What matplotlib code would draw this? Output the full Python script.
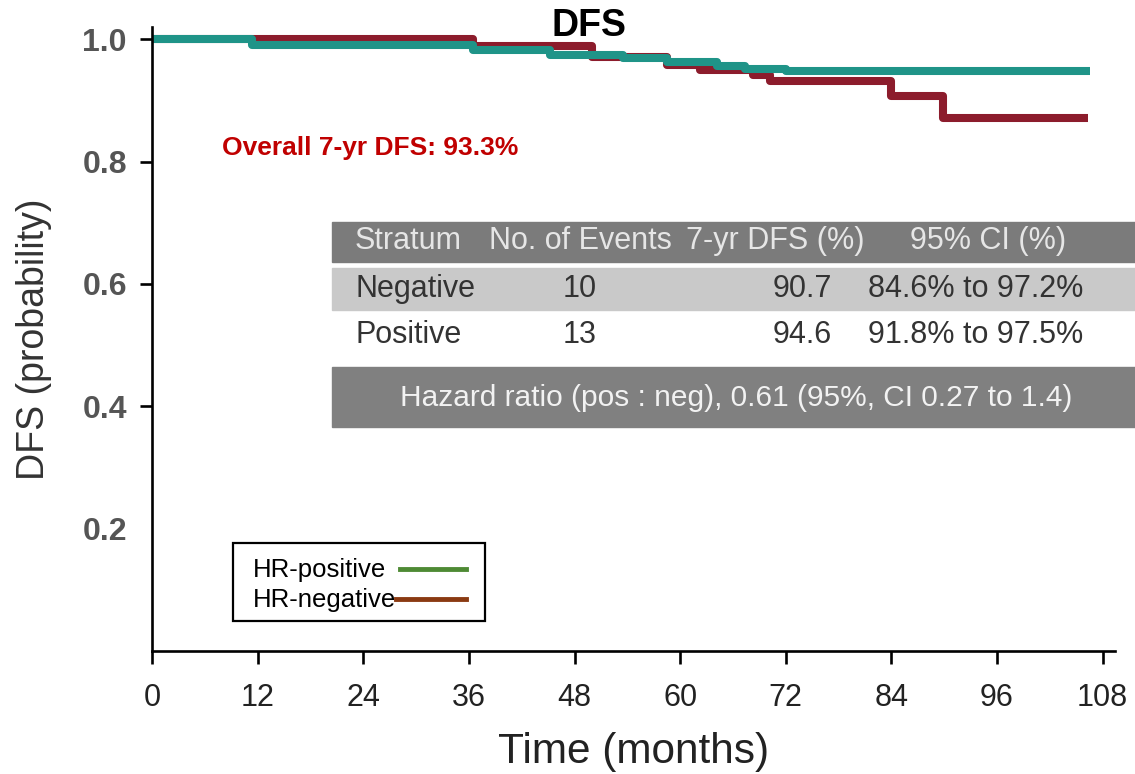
import matplotlib.pyplot as plt
from matplotlib.lines import Line2D
from matplotlib.patches import Rectangle

plt.rcParams['font.family'] = ['Liberation Sans', 'DejaVu Sans']

# Kaplan-Meier steps (months, survival probability)
pos_time = [0, 11.4, 36.5, 45.2, 53.5, 58.5, 64.2, 67.4, 72.0, 106.6]
pos_surv = [1.0, 0.991, 0.982, 0.975, 0.970, 0.962, 0.956, 0.952, 0.948, 0.948]
neg_time = [0, 36.5, 50.0, 58.5, 62.3, 68.3, 70.2, 83.9, 89.9, 106.3]
neg_surv = [1.0, 0.989, 0.971, 0.958, 0.949, 0.942, 0.931, 0.907, 0.871, 0.871]

x_ticks = [0, 12, 24, 36, 48, 60, 72, 84, 96, 108]
y_ticks = [0.2, 0.4, 0.6, 0.8, 1.0]

# summary table
tab_header = ["Stratum", "No. of Events", "7-yr DFS (%)", "95% CI (%)"]
tab_strata = ["Negative", "Positive"]
tab_events = ["10", "13"]
tab_dfs = ["90.7", "94.6"]
tab_ci = ["84.6% to 97.2%", "91.8% to 97.5%"]
hazard_text = "Hazard ratio (pos : neg), 0.61 (95%, CI 0.27 to 1.4)"

legend_labels = ["HR-positive", "HR-negative"]
legend_colors = ["#4e8a34", "#8a3a12"]

W, H = 1135, 774
fig = plt.figure(figsize=(W / 100, H / 100), dpi=100)


def fx(px):
    return px / W


def fy(py):
    return 1 - py / H


ax = fig.add_axes([fx(152), fy(651), fx(1115) - fx(152), fy(27) - fy(651)])

ax.step(neg_time, neg_surv, where="post", color="#8c1c2c", lw=5.8, solid_capstyle="butt")
ax.step(pos_time, pos_surv, where="post", color="#1f9488", lw=5.8, solid_capstyle="butt")

ax.set_xlim(0, 109.4)
ax.set_ylim(0, 1.02)
for s in ["top", "right"]:
    ax.spines[s].set_visible(False)
for s in ["left", "bottom"]:
    ax.spines[s].set_linewidth(1.9)

ax.set_xticks(x_ticks)
ax.set_xticklabels([str(t) for t in x_ticks], fontsize=22, color="#222222")
ax.tick_params(axis="x", length=9, width=1.9, pad=14)
ax.set_yticks(y_ticks)
ax.set_yticklabels([f"{t:.1f}" for t in y_ticks], fontsize=23, fontweight="bold", color="#555555")
ax.tick_params(axis="y", length=9, width=1.9, pad=9)
ax.yaxis.get_major_ticks()[0].tick1line.set_visible(False)

ax.set_xlabel("Time (months)", fontsize=30.5, color="#222222", labelpad=14)
ax.set_ylabel("DFS (probability)", fontsize=27, color="#333333", labelpad=22)

fig.text(fx(589), fy(26), "DFS", fontsize=27, fontweight="bold", ha="center", va="center")
fig.text(fx(222), fy(148), "Overall 7-yr DFS: 93.3%", fontsize=19, fontweight="bold",
         color="#c00000", ha="left", va="center")

# table bands
fig.patches.append(Rectangle((fx(332), fy(262)), fx(1135) - fx(332), fy(222) - fy(262),
                             transform=fig.transFigure, color="#7b7b7b", zorder=0))
fig.patches.append(Rectangle((fx(332), fy(310)), fx(1135) - fx(332), fy(268) - fy(310),
                             transform=fig.transFigure, color="#c9c9c9", zorder=0))
fig.patches.append(Rectangle((fx(332), fy(427)), fx(1135) - fx(332), fy(367) - fy(427),
                             transform=fig.transFigure, color="#808080", zorder=0))

tkw = dict(fontsize=22, va="center")
fig.text(fx(355), fy(241), tab_header[0], color="#e6e6e6", ha="left", **tkw)
fig.text(fx(580), fy(241), tab_header[1], color="#e6e6e6", ha="center", **tkw)
fig.text(fx(775), fy(241), tab_header[2], color="#e6e6e6", ha="center", **tkw)
fig.text(fx(988), fy(241), tab_header[3], color="#e6e6e6", ha="center", **tkw)
for i, row_y in enumerate([289, 335]):
    fig.text(fx(355), fy(row_y), tab_strata[i], color="#333333", ha="left", **tkw)
    fig.text(fx(563), fy(row_y), tab_events[i], color="#333333", ha="left", **tkw)
    fig.text(fx(832), fy(row_y), tab_dfs[i], color="#333333", ha="right", **tkw)
    fig.text(fx(868), fy(row_y), tab_ci[i], color="#333333", ha="left", **tkw)
fig.text(fx(736), fy(398), hazard_text, color="#f2f2f2", ha="center", fontsize=21.5, va="center")

# legend box: label on the left, sample line on the right
fig.patches.append(Rectangle((fx(233), fy(621)), fx(485) - fx(233), fy(543) - fy(621),
                             transform=fig.transFigure, facecolor="white", edgecolor="black",
                             lw=1.6, zorder=3))
for i, (lab, col) in enumerate(zip(legend_labels, legend_colors)):
    yy = 569 + 30 * i
    fig.text(fx(253), fy(yy + 1), lab, fontsize=18.5, ha="left", va="center", zorder=4)
    x0 = 400 if i == 0 else 396
    fig.add_artist(Line2D([fx(x0), fx(466)], [fy(yy), fy(yy)], color=col, lw=3.5,
                          transform=fig.transFigure, zorder=4))

fig.savefig("out.png", dpi=100)
